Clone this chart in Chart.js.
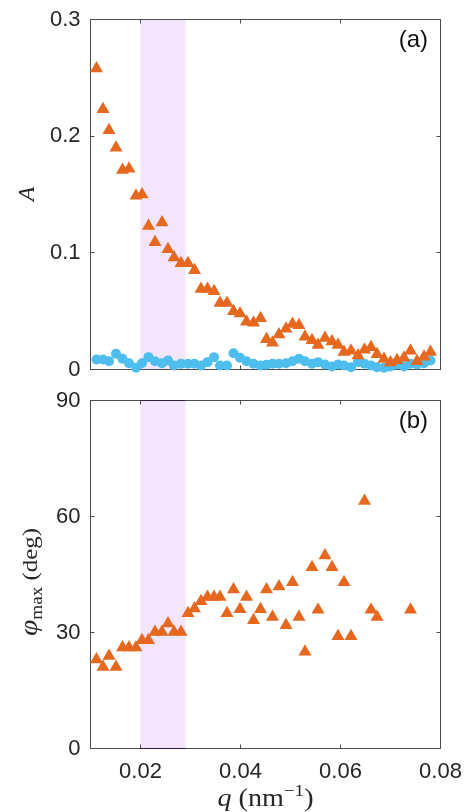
<!DOCTYPE html>
<html><head><meta charset="utf-8">
<script src="https://cdn.jsdelivr.net/npm/chart.js@4.4.0/dist/chart.umd.min.js"></script>
<style>
html,body{margin:0;padding:0;background:#fff;width:466px;height:812px;overflow:hidden}
#c1{position:absolute;left:0;top:0}
#c2{position:absolute;left:0;top:385px}
</style></head><body>
<canvas id="c1" width="466" height="385"></canvas>
<canvas id="c2" width="466" height="427"></canvas>
<script>
// ---------- data ----------
const qValues = [0.0112,0.0125,0.0137,0.0151,0.0164,0.0177,0.0191,0.0203,0.0216,0.0229,
  0.0243,0.0255,0.0267,0.0281,0.0295,0.0308,0.0321,0.0334,0.0347,0.0359,
  0.0373,0.0386,0.0399,0.0412,0.0426,0.0440,0.0452,0.0464,0.0477,0.0491,
  0.0504,0.0517,0.0529,0.0543,0.0555,0.0569,0.0583,0.0595,0.0607,0.0621,
  0.0635,0.0648,0.0661,0.0673,0.0687,0.0700,0.0713,0.0727,0.0740,0.0753,
  0.0767,0.0780];
const ampOrange = [0.258,0.223,0.205,0.190,0.171,0.172,0.149,0.150,0.123,0.109,
  0.126,0.103,0.096,0.091,0.091,0.085,0.069,0.069,0.067,0.057,
  0.057,0.050,0.048,0.041,0.040,0.044,0.026,0.023,0.030,0.035,
  0.039,0.038,0.028,0.025,0.021,0.027,0.024,0.021,0.015,0.016,
  0.012,0.017,0.019,0.013,0.009,0.006,0.008,0.010,0.016,0.007,
  0.011,0.015];
const ampBlue = [0.0086,0.0086,0.0071,0.0134,0.0092,0.0054,0.0015,0.0054,0.0106,0.0071,
  0.0054,0.0077,0.0034,0.0049,0.0049,0.0049,0.0034,0.0063,0.0106,0.0034,
  0.0034,0.0140,0.0100,0.0071,0.0049,0.0034,0.0040,0.0049,0.0049,0.0054,
  0.0071,0.0092,0.0071,0.0050,0.0063,0.0043,0.0026,0.0043,0.0034,0.0020,
  0.0063,0.0049,0.0034,0.0020,0.0015,0.0026,0.0043,0.0026,0.0049,0.0043,
  0.0054,0.0077];
const phiMax = [23.0,21.1,23.9,21.1,26.1,26.1,26.1,28.0,28.0,30.1,
  30.1,32.3,30.1,30.1,35.0,36.2,38.1,39.2,39.2,39.2,
  35.0,41.1,36.0,39.2,33.2,36.0,41.1,34.0,41.9,31.9,
  43.0,34.0,25.0,46.9,35.9,49.9,46.9,29.0,43.0,29.0,
  null,64.0,35.9,34.0,null,null,null,null,35.9,null,
  null,null];
const xTicks = [0.02,0.04,0.06,0.08];
const xTickLabels = ['0.02','0.04','0.06','0.08'];
const ampTicks = [0,0.1,0.2,0.3];
const ampTickLabels = ['0','0.1','0.2','0.3'];
const phiTicks = [0,30,60,90];
const phiTickLabels = ['0','30','60','90'];
const shadeRange = [0.02,0.029];

// ---------- styles ----------
const ORANGE = '#E6681F';
const BLUE = '#4DBEEE';
const AXIS = '#4d4d4d';
const TXT = '#262626';
const TICKFONT = {family:'"Liberation Sans", Arial, Helvetica, sans-serif', size:22};

function crisp(v){ return Math.round(v - 0.5) + 0.5; }

function makeFramePlugin(yTicksArr, darkShadeEdge){
  return {
    id:'frameShade',
    beforeDatasetsDraw(chart){
      const {ctx, chartArea:{left,right,top,bottom}, scales:{x,y}} = chart;
      const x0 = x.getPixelForValue(shadeRange[0]);
      const x1 = x.getPixelForValue(shadeRange[1]);
      ctx.save();
      ctx.fillStyle = '#f3e5fc';
      ctx.fillRect(x0, top, x1 - x0, bottom - top);
      ctx.strokeStyle = AXIS; ctx.lineWidth = 1;
      ctx.strokeRect(left, top, right - left, bottom - top);
      ctx.beginPath();
      const tl = 4;
      for (const v of xTicks){
        const px = crisp(x.getPixelForValue(v));
        ctx.moveTo(px, bottom); ctx.lineTo(px, bottom - tl);
        ctx.moveTo(px, top); ctx.lineTo(px, top + tl);
      }
      for (const v of yTicksArr){
        const py = crisp(y.getPixelForValue(v));
        ctx.moveTo(left, py); ctx.lineTo(left + tl, py);
        ctx.moveTo(right, py); ctx.lineTo(right - tl, py);
      }
      ctx.stroke();
      if (darkShadeEdge){
        ctx.strokeStyle = '#2e2338';
        ctx.beginPath();
        ctx.moveTo(x0, top); ctx.lineTo(x1, top);
        ctx.moveTo(x0, bottom); ctx.lineTo(x1, bottom);
        ctx.stroke();
      }
      ctx.restore();
    }
  };
}

function drawRuns(ctx, runs, cx, cy, rotate, targetW, color){
  ctx.save();
  ctx.translate(cx, cy);
  if (rotate) ctx.rotate(-Math.PI/2);
  let total = 0;
  for (const r of runs){ ctx.font = r.font; r.w = ctx.measureText(r.text).width; total += r.w; }
  const s = targetW ? targetW/total : 1;
  ctx.scale(s, 1);
  let xx = -total/2;
  ctx.textBaseline = 'alphabetic';
  ctx.textAlign = 'left';
  ctx.fillStyle = color || TXT;
  for (const r of runs){ ctx.font = r.font; ctx.fillText(r.text, xx, r.dy || 0); xx += r.w; }
  ctx.restore();
}

const SERIF = '"Liberation Serif", "Times New Roman", serif';
const SANS = '"Liberation Sans", Arial, Helvetica, sans-serif';

const labels1 = {
  id:'labels1',
  afterDraw(chart){
    const ctx = chart.ctx;
    drawRuns(ctx, [{text:'A', font:'italic 24px ' + SERIF}], 33.5, 194, true, null);
    ctx.save();
    ctx.font = '24px ' + SANS; ctx.fillStyle = '#111'; ctx.textAlign = 'right'; ctx.textBaseline = 'alphabetic';
    ctx.fillText('(a)', 428, 47);
    ctx.restore();
  }
};
const labels2 = {
  id:'labels2',
  afterDraw(chart){
    const ctx = chart.ctx;
    drawRuns(ctx, [
      {text:'φ', font:'italic 26px ' + SERIF},
      {text:'max', font:'17px ' + SERIF, dy:5},
      {text:' (deg)', font:'22px ' + SERIF}
    ], 37, 197, true, 108);
    drawRuns(ctx, [
      {text:'q', font:'italic 25px ' + SERIF},
      {text:' (nm', font:'25px ' + SERIF},
      {text:'−1', font:'17px ' + SERIF, dy:-10},
      {text:')', font:'25px ' + SERIF}
    ], 265.5, 421, false, 96);
    ctx.save();
    ctx.font = '24px ' + SANS; ctx.fillStyle = '#111'; ctx.textAlign = 'right'; ctx.textBaseline = 'alphabetic';
    ctx.fillText('(b)', 428, 43);
    ctx.restore();
  }
};

function xScale(showLabels, height){
  return {
    type:'linear', min:0.01, max:0.08,
    grid:{display:false, drawTicks:false}, border:{display:false},
    afterBuildTicks(s){ s.ticks = xTicks.map(v => ({value:v})); },
    ticks:{display:showLabels, color:TXT, font:TICKFONT, padding:10, maxRotation:0, autoSkip:false,
      callback(v){ const i = xTicks.findIndex(t => Math.abs(t - v) < 1e-9); return i >= 0 ? xTickLabels[i] : ''; }},
    afterFit(s){ s.height = height; s.paddingLeft = 0; s.paddingRight = 0; }
  };
}
function yScale(min, max, ticksArr, labelsArr){
  return {
    type:'linear', min:min, max:max,
    grid:{display:false, drawTicks:false}, border:{display:false},
    afterBuildTicks(s){ s.ticks = ticksArr.map(v => ({value:v})); },
    ticks:{color:TXT, font:TICKFONT, padding:10, autoSkip:false,
      callback(v){ const i = ticksArr.findIndex(t => Math.abs(t - v) < 1e-9); return i >= 0 ? labelsArr[i] : ''; }},
    afterFit(s){ s.width = 90.5; s.paddingTop = 0; s.paddingBottom = 0; }
  };
}

const common = {
  responsive:false, animation:false, events:[], devicePixelRatio:1,
  plugins:{legend:{display:false}, tooltip:{enabled:false}}
};

new Chart(document.getElementById('c1'), {
  type:'scatter',
  data:{datasets:[
    {data: qValues.map((q,i) => ({x:q, y:ampOrange[i]})), pointStyle:'triangle', pointRadius:7.5,
     backgroundColor:ORANGE, borderWidth:0, clip:false},
    {data: qValues.map((q,i) => ({x:q, y:ampBlue[i]})), pointStyle:'circle', pointRadius:5,
     backgroundColor:BLUE, borderWidth:0, clip:false}
  ]},
  options:Object.assign({}, common, {
    layout:{padding:{top:19.5, right:25.5, left:0, bottom:0}},
    scales:{x:xScale(false, 15.5), y:yScale(0, 0.3, ampTicks, ampTickLabels)}
  }),
  plugins:[makeFramePlugin(ampTicks, false), labels1]
});

new Chart(document.getElementById('c2'), {
  type:'scatter',
  data:{datasets:[
    {data: qValues.map((q,i) => ({x:q, y:phiMax[i]})).filter(p => p.y !== null), pointStyle:'triangle', pointRadius:7.5,
     backgroundColor:ORANGE, borderWidth:0, clip:false}
  ]},
  options:Object.assign({}, common, {
    layout:{padding:{top:15.5, right:25.5, left:0, bottom:0}},
    scales:{x:xScale(true, 63.5), y:yScale(0, 90, phiTicks, phiTickLabels)}
  }),
  plugins:[makeFramePlugin(phiTicks, true), labels2]
});
</script>
</body></html>
